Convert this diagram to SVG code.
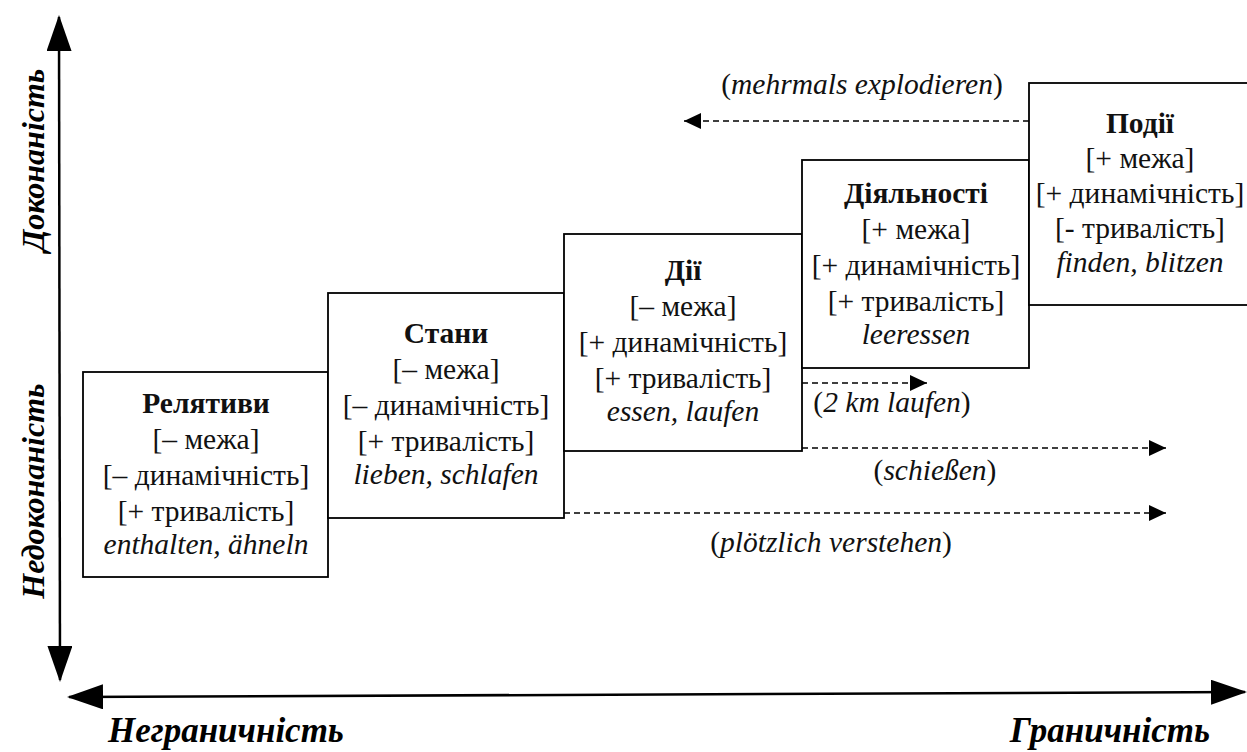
<svg xmlns="http://www.w3.org/2000/svg" width="1247" height="752" viewBox="0 0 1247 752">
<style>
.box{fill:#fff;stroke:#000;stroke-width:1.8}
.t{font-family:'Liberation Serif','Times New Roman',Times,'DejaVu Serif',serif;font-size:29.5px;fill:#111;text-anchor:middle}
.b{font-weight:bold}
.i{font-style:italic}
.ax{font-family:'Liberation Serif','Times New Roman',Times,'DejaVu Serif',serif;font-size:32px;font-weight:bold;font-style:italic;fill:#000}
.axh{font-size:35px}
.dash{stroke:#000;stroke-width:1.6;stroke-dasharray:6 4;fill:none}
.axis{stroke:#000;stroke-width:2.5;fill:none}
</style>
<defs>
<marker id="ah" markerUnits="userSpaceOnUse" markerWidth="17" markerHeight="16" refX="17" refY="8" orient="auto">
<path d="M0,0 L17,8 L0,16 z" fill="#000"/>
</marker>
<marker id="big" markerUnits="userSpaceOnUse" markerWidth="36" markerHeight="25" refX="34" refY="12.5" orient="auto-start-reverse">
<path d="M0,0 L36,12.5 L0,25 z" fill="#000"/>
</marker>
</defs>
<rect width="1247" height="752" fill="#fff"/>
<g id="connectors">
<line class="axis" x1="59" y1="17" x2="60" y2="680" marker-start="url(#big)" marker-end="url(#big)"/>
<line class="axis" x1="69" y1="697" x2="1245" y2="692" marker-start="url(#big)" marker-end="url(#big)"/>
<line class="dash" x1="1029" y1="121" x2="684" y2="121" marker-end="url(#ah)"/>
<line class="dash" x1="802" y1="383" x2="927" y2="383" marker-end="url(#ah)"/>
<line class="dash" x1="802" y1="448" x2="1166" y2="448" marker-end="url(#ah)"/>
<line class="dash" x1="564" y1="513" x2="1166" y2="513" marker-end="url(#ah)"/>
</g>
<g id="axis-labels">
<text class="ax" transform="translate(44,160) rotate(-90)" text-anchor="middle">Доконаність</text>
<text class="ax" transform="translate(44,491) rotate(-90)" text-anchor="middle">Недоконаність</text>
<text class="ax axh" x="108" y="742">Неграничність</text>
<text class="ax axh" x="1210" y="742" text-anchor="end">Граничність</text>
</g>
<g id="edge-labels">
<text class="t" x="862" y="94">(<tspan class="i">mehrmals explodieren</tspan>)</text>
<text class="t" x="892" y="412">(<tspan class="i">2 km laufen</tspan>)</text>
<text class="t" x="935" y="480">(<tspan class="i">schießen</tspan>)</text>
<text class="t" x="831" y="552">(<tspan class="i">plötzlich verstehen</tspan>)</text>
</g>
<g id="node-relatyvy">
<rect class="box" x="83" y="372" width="245" height="205"/>
<text class="t b" x="206" y="413">Релятиви</text>
<text class="t" x="206" y="449">[– межа]</text>
<text class="t" x="206" y="485">[– динамічність]</text>
<text class="t" x="206" y="521">[+ тривалість]</text>
<text class="t i" x="206" y="554">enthalten, ähneln</text>
</g>
<g id="node-stany">
<rect class="box" x="328" y="293" width="236" height="225"/>
<text class="t b" x="446" y="343">Стани</text>
<text class="t" x="446" y="379">[– межа]</text>
<text class="t" x="446" y="415">[– динамічність]</text>
<text class="t" x="446" y="451">[+ тривалість]</text>
<text class="t i" x="446" y="484">lieben, schlafen</text>
</g>
<g id="node-dii">
<rect class="box" x="564" y="234" width="238" height="217"/>
<text class="t b" x="683" y="280">Дії</text>
<text class="t" x="683" y="316">[– межа]</text>
<text class="t" x="683" y="352">[+ динамічність]</text>
<text class="t" x="683" y="388">[+ тривалість]</text>
<text class="t i" x="683" y="421">essen, laufen</text>
</g>
<g id="node-diyalnosti">
<rect class="box" x="802" y="160" width="227" height="208"/>
<text class="t b" x="916" y="203">Діяльності</text>
<text class="t" x="916" y="239">[+ межа]</text>
<text class="t" x="916" y="275">[+ динамічність]</text>
<text class="t" x="916" y="311">[+ тривалість]</text>
<text class="t i" x="916" y="344">leeressen</text>
</g>
<g id="node-podii">
<rect class="box" x="1029" y="83" width="230" height="222"/>
<text class="t b" x="1140" y="133">Події</text>
<text class="t" x="1140" y="168">[+ межа]</text>
<text class="t" x="1140" y="203">[+ динамічність]</text>
<text class="t" x="1140" y="238">[- тривалість]</text>
<text class="t i" x="1140" y="272">finden, blitzen</text>
</g>
</svg>
